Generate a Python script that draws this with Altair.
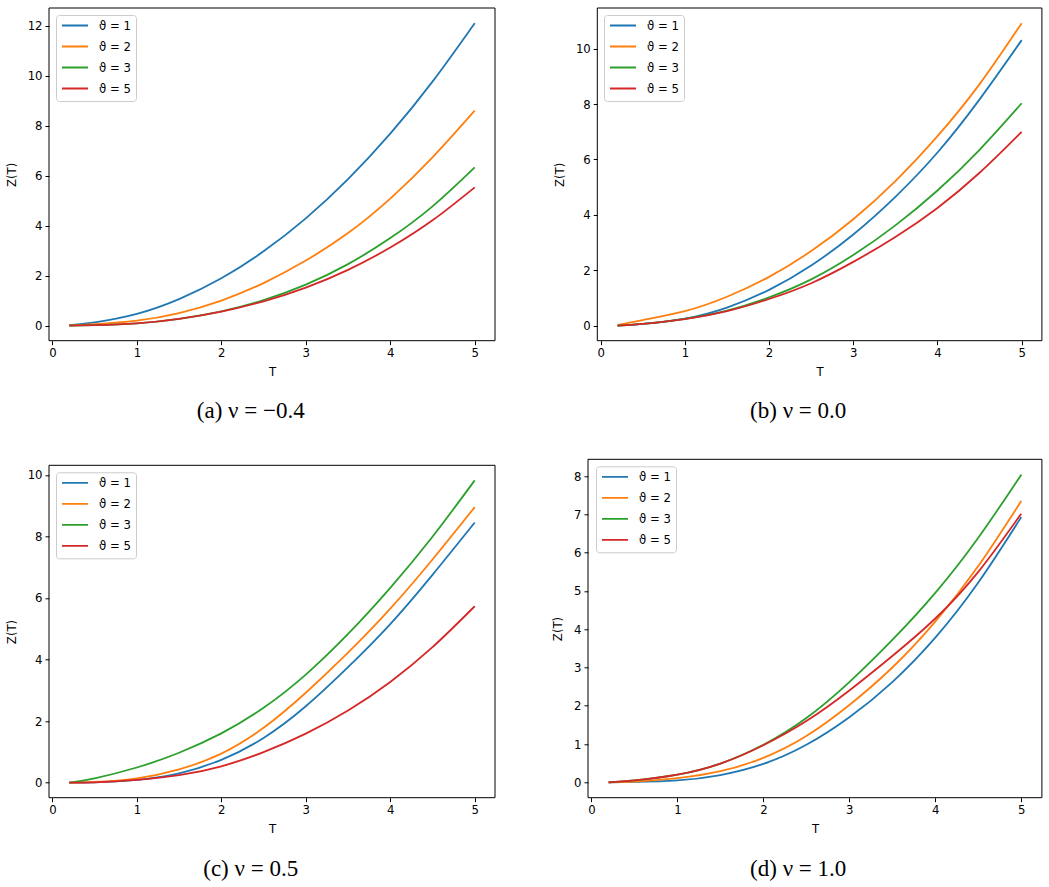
import altair as alt
import pandas as pd

# ---------------- data ----------------
T_VALUES = [0.2, 0.5, 1.0, 1.5, 2.0, 2.5, 3.0, 3.5, 4.0, 4.5, 5.0]
SERIES = ["ϑ = 1", "ϑ = 2", "ϑ = 3", "ϑ = 5"]
COLORS = ["#1f77b4", "#ff7f0e", "#2ca02c", "#d62728"]
X_TICKS = [0, 1, 2, 3, 4, 5]

# (a) nu = -0.4
a_theta1 = [0.02, 0.13, 0.47, 1.06, 1.89, 2.97, 4.29, 5.86, 7.68, 9.76, 12.10]
a_theta2 = [0.01, 0.06, 0.20, 0.50, 1.00, 1.70, 2.60, 3.70, 5.08, 6.73, 8.60]
a_theta3 = [0.00, 0.02, 0.09, 0.27, 0.57, 1.02, 1.64, 2.46, 3.50, 4.77, 6.33]
a_theta5 = [0.00, 0.02, 0.09, 0.27, 0.56, 0.97, 1.52, 2.23, 3.12, 4.21, 5.53]

# (b) nu = 0.0
b_theta1 = [0.00, 0.06, 0.25, 0.65, 1.29, 2.17, 3.29, 4.65, 6.25, 8.17, 10.31]
b_theta2 = [0.02, 0.20, 0.52, 1.04, 1.76, 2.69, 3.84, 5.22, 6.84, 8.72, 10.92]
b_theta3 = [0.00, 0.06, 0.24, 0.54, 1.02, 1.67, 2.55, 3.62, 4.88, 6.35, 8.03]
b_theta5 = [0.00, 0.06, 0.23, 0.52, 0.96, 1.53, 2.30, 3.20, 4.25, 5.52, 7.00]

# (c) nu = 0.5
c_theta1 = [0.00, 0.01, 0.09, 0.30, 0.74, 1.45, 2.48, 3.75, 5.15, 6.75, 8.45]
c_theta2 = [0.00, 0.02, 0.14, 0.43, 0.94, 1.78, 2.92, 4.22, 5.65, 7.25, 8.95]
c_theta3 = [0.00, 0.14, 0.49, 0.97, 1.60, 2.43, 3.51, 4.83, 6.33, 7.99, 9.82]
c_theta5 = [0.00, 0.01, 0.09, 0.24, 0.53, 0.99, 1.59, 2.34, 3.27, 4.40, 5.73]

# (d) nu = 1.0
d_theta1 = [0.00, 0.01, 0.05, 0.19, 0.48, 0.98, 1.70, 2.62, 3.78, 5.22, 6.93]
d_theta2 = [0.00, 0.02, 0.11, 0.29, 0.64, 1.21, 2.02, 3.00, 4.20, 5.65, 7.35]
d_theta3 = [0.00, 0.05, 0.20, 0.49, 0.98, 1.68, 2.62, 3.72, 4.95, 6.39, 8.04]
d_theta5 = [0.00, 0.05, 0.20, 0.49, 0.97, 1.60, 2.40, 3.30, 4.28, 5.50, 7.02]

CAPTIONS = ["(a) ν = −0.4", "(b) ν = 0.0", "(c) ν = 0.5", "(d) ν = 1.0"]
Y_TICKS_A = [0, 2, 4, 6, 8, 10, 12]
Y_TICKS_B = [0, 2, 4, 6, 8, 10]
Y_TICKS_C = [0, 2, 4, 6, 8, 10]
Y_TICKS_D = [0, 1, 2, 3, 4, 5, 6, 7, 8]

FONT = "DejaVu Sans"
FS = 11.7


def make_panel(curves, ydom, yticks, W, H, frame, caption, cap_xy, legend_xy, anchor=False):
    fx0, fy0, fx1, fy1 = frame
    rows = []
    for name, vals in zip(SERIES, curves):
        for t, z in zip(T_VALUES, vals):
            rows.append({"T": t, "Z": z, "series": name})
    df = pd.DataFrame(rows)

    y_axis_kwargs = dict(values=yticks, title="Z(T)", titleY=(fy0 + fy1) / 2)
    if fx0 > 0:
        y_axis_kwargs["offset"] = -fx0

    lines = alt.Chart(df).mark_line(strokeWidth=1.8, interpolate="natural").encode(
        x=alt.X("T:Q",
                scale=alt.Scale(domain=[-0.04, 5.24], range=[fx0, fx1], nice=False, zero=False),
                axis=alt.Axis(values=X_TICKS, title="T", titleX=(fx0 + fx1) / 2)),
        y=alt.Y("Z:Q",
                scale=alt.Scale(domain=ydom, range=[fy1, fy0], nice=False, zero=False),
                axis=alt.Axis(**y_axis_kwargs)),
        color=alt.Color("series:N",
                        scale=alt.Scale(domain=SERIES, range=COLORS),
                        legend=alt.Legend(title=None, orient="none",
                                          legendX=legend_xy[0], legendY=legend_xy[1])),
    )

    one = pd.DataFrame({"k": [0]})
    box = alt.Chart(one).mark_rect(fill="transparent", stroke="black", strokeWidth=1).encode(
        x=alt.value(fx0), x2=alt.value(fx1), y=alt.value(fy0), y2=alt.value(fy1)
    )
    cap = alt.Chart(one).mark_text(
        text=caption, font="Liberation Serif", fontSize=23, color="black",
        align="center", baseline="middle"
    ).encode(x=alt.value(cap_xy[0]), y=alt.value(cap_xy[1]))

    layers = [lines, box, cap]
    if anchor:
        anc = alt.Chart(one).mark_rule(color="white", strokeWidth=1).encode(
            x=alt.value(-47.8), x2=alt.value(-47.3), y=alt.value(-6.8), y2=alt.value(-6.8)
        )
        layers.append(anc)
    return alt.layer(*layers).properties(width=W, height=H)


W1, W2 = 446, 453.9
H1, H2 = 332.7, 338.4

pa = make_panel([a_theta1, a_theta2, a_theta3, a_theta5], [-0.605, 12.705], Y_TICKS_A,
                W1, H1, (0, 0, W1, H1), CAPTIONS[0], (201.7, H1 + 70), (7, 7), anchor=True)
pb = make_panel([b_theta1, b_theta2, b_theta3, b_theta5], [-0.546, 11.47], Y_TICKS_B,
                W2, H1, (9.3, 0, W2, H1), CAPTIONS[1], (210.2, H1 + 70), (16, 7))
pc = make_panel([c_theta1, c_theta2, c_theta3, c_theta5], [-0.491, 10.31], Y_TICKS_C,
                W1, H2, (0, 6, W1, H2), CAPTIONS[2], (201.7, H2 + 71.3), (7, 13))
pd_ = make_panel([d_theta1, d_theta2, d_theta3, d_theta5], [-0.402, 8.44], Y_TICKS_D,
                 W2, H2, (0, 0, W2, H2), CAPTIONS[3], (210.2, H2 + 71.3), (8, 7))

chart = alt.concat(
    pa, pb, pc, pd_, columns=2, spacing={"row": 118.3, "column": 93}
).properties(
    bounds="flush", align="each",
    padding={"left": 0, "top": 0, "right": 5, "bottom": 5},
).resolve_scale(
    color="independent", x="independent", y="independent"
).configure_view(
    stroke="transparent"
).configure_axis(
    domain=False, grid=False, tickColor="black", tickSize=4, tickWidth=1,
    labelFont=FONT, labelFontSize=FS, labelColor="black", labelPadding=3,
    titleFont=FONT, titleFontSize=FS, titleFontWeight="normal", titleColor="black",
).configure_axisX(
    titlePadding=7
).configure_axisY(
    titlePadding=10
).configure_legend(
    symbolType="stroke", symbolSize=676, symbolStrokeWidth=1.8,
    labelFont=FONT, labelFontSize=FS, labelColor="black", labelOffset=10,
    padding=5, strokeColor="#cccccc", fillColor="rgba(255,255,255,0.8)",
    cornerRadius=3, clipHeight=11, rowPadding=8,
)

chart.save("out.html", embed_options={"renderer": "svg", "actions": False})
